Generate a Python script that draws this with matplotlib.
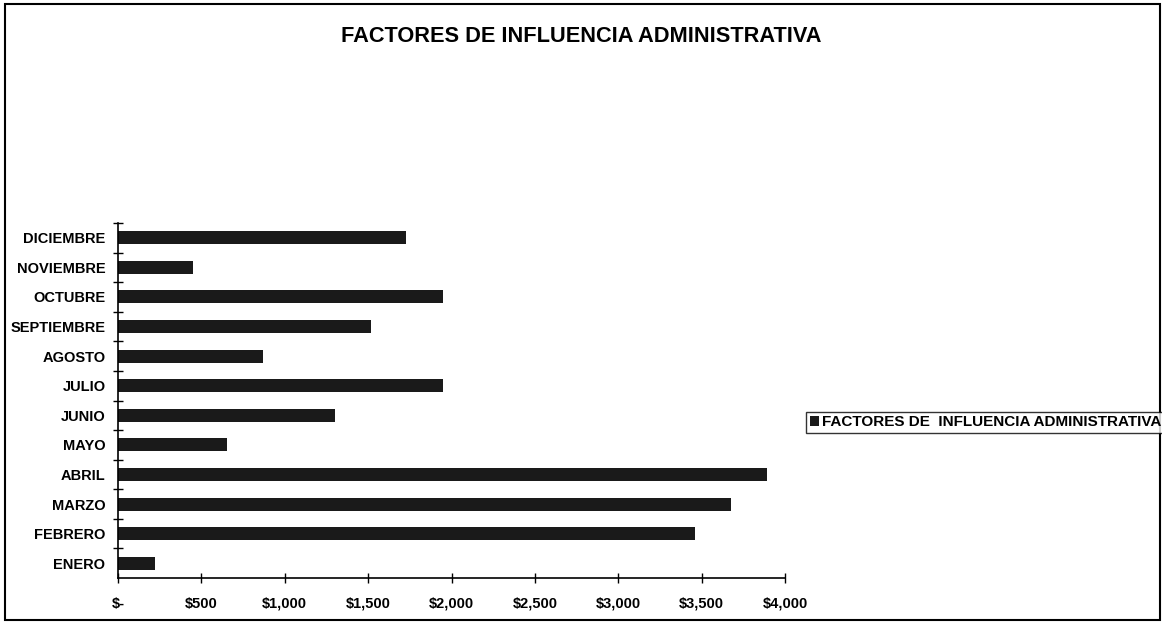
import matplotlib
matplotlib.use('Agg')
import matplotlib.pyplot as plt
from matplotlib.patches import Rectangle

# data
meses = ['ENERO', 'FEBRERO', 'MARZO', 'ABRIL', 'MAYO', 'JUNIO',
         'JULIO', 'AGOSTO', 'SEPTIEMBRE', 'OCTUBRE', 'NOVIEMBRE', 'DICIEMBRE']
valores = [220, 3460, 3675, 3890, 655, 1300, 1950, 870, 1515, 1950, 450, 1730]
x_ticks = [0, 500, 1000, 1500, 2000, 2500, 3000, 3500, 4000]
x_labels = ['$-', '$500', '$1,000', '$1,500', '$2,000', '$2,500',
            '$3,000', '$3,500', '$4,000']
titulo = 'FACTORES DE INFLUENCIA ADMINISTRATIVA'
serie = 'FACTORES DE  INFLUENCIA ADMINISTRATIVA'

plt.rcParams['font.family'] = ['Liberation Sans', 'DejaVu Sans']
plt.rcParams['font.weight'] = 'bold'

fig = plt.figure(figsize=(11.62, 6.23), dpi=100)
ax = fig.add_axes([118/1162, 1-578/623, (785-118)/1162, (578-223)/623])

pos = list(range(len(meses)))
ax.barh(pos, valores, height=0.44, color='#1a1a1a', label=serie)

ax.set_xlim(0, 4000)
ax.set_ylim(-0.5, len(meses) - 0.5)

# y axis: labels on categories, cross ticks between them
ax.set_yticks(pos)
ax.set_yticklabels(meses, fontsize=10.5, fontweight='bold')
ax.tick_params(axis='y', which='major', length=0, pad=9)
ax.set_yticks([p + 0.5 for p in pos], minor=True)
ax.tick_params(axis='y', which='minor', direction='inout', length=7, width=1)

ax.set_xticks(x_ticks)
ax.set_xticklabels(x_labels, fontsize=10.5, fontweight='bold')
ax.tick_params(axis='x', direction='inout', length=7, width=1, pad=10)

for s in ['top', 'right']:
    ax.spines[s].set_visible(False)
for s in ['left', 'bottom']:
    ax.spines[s].set_linewidth(1.2)

fig.text(581/1162, 1-37/623, titulo, ha='center', va='center',
         fontsize=15.7, fontweight='bold')

leg = fig.legend(loc='center left', bbox_to_anchor=(806/1162, 1-422.5/623),
                 frameon=True, fancybox=False, fontsize=11, handlelength=0.6,
                 handleheight=0.6, handletextpad=0.2, borderpad=0.25,
                 borderaxespad=0)
leg.get_frame().set_edgecolor('black')
leg.get_frame().set_linewidth(1)

# outer frame of the chart area
fig.patches.append(Rectangle((5/1162, 3/623), 1155/1162, 616/623,
                             transform=fig.transFigure, fill=False,
                             edgecolor='black', linewidth=1.5))

fig.savefig('out.png', dpi=100)
